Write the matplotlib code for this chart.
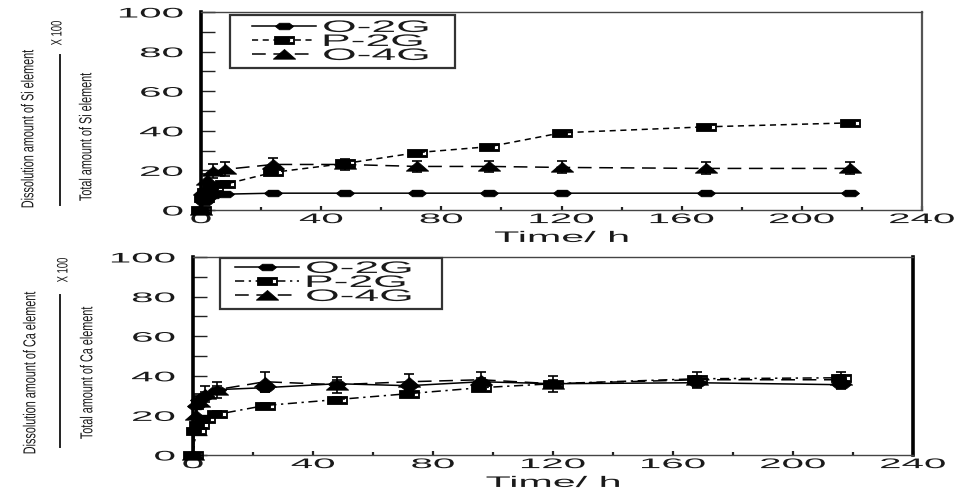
import matplotlib
matplotlib.use('Agg')
import matplotlib.pyplot as plt
from matplotlib.patheffects import AbstractPathEffect
from matplotlib.transforms import Affine2D
from matplotlib.path import Path
from matplotlib.patches import Rectangle
from matplotlib.lines import Line2D
from matplotlib.ticker import FixedLocator

# ---------------- data ----------------
time_h = [0, 1, 2, 4, 8, 24, 48, 72, 96, 120, 168, 216]

si_o2g = [0, 4, 6, 7.5, 8, 8.5, 8.5, 8.5, 8.5, 8.5, 8.5, 8.5]
si_p2g = [0, 6, 9, 11, 13, 19, 23.5, 29, 32, 39, 42, 44]
si_o4g = [0, 10, 15, 19.5, 20.5, 23, 23, 22, 22, 21.5, 21, 21]
si_o2g_err = [0, 1, 1, 1, 1, 1, 1, 1, 1, 1, 1, 1]
si_p2g_err = [0, 1.5, 1.5, 1.5, 1.5, 1.5, 1.5, 1, 1, 1, 1, 1]
si_o4g_err = [0, 3, 3, 3.5, 3.5, 3.5, 3, 3, 3, 3, 3, 3]

ca_o2g = [0, 25, 28, 30, 33, 34, 36, 35, 37, 36, 36.5, 35.5]
ca_p2g = [0, 12, 15, 18, 20.5, 25, 28, 31, 34, 36, 38.5, 39]
ca_o4g = [0, 20, 27, 31, 33, 37, 35.5, 37, 38, 36, 38, 38]
ca_o2g_err = [0, 2, 2, 2, 2, 2, 2, 2, 2, 2, 2, 2]
ca_p2g_err = [0, 1.5, 1.5, 1.5, 1.5, 1.5, 1.5, 1.5, 1.5, 1.5, 1.5, 1.5]
ca_o4g_err = [0, 4, 4, 4, 4, 5, 4, 4, 4, 4, 4, 4]

series_labels = ['O-2G', 'P-2G', 'O-4G']
x_ticks = [0, 40, 80, 120, 160, 200, 240]
x_minor = [20, 60, 100, 140, 180, 220]
y_ticks = [0, 20, 40, 60, 80, 100]
y_minor = [10, 30, 50, 70, 90]
x_label = 'Time/ h'
elements = ['Si', 'Ca']


# ------------- helpers -------------
class Stretch(AbstractPathEffect):
    """Draw text stretched (the reference image is horizontally stretched)."""
    def __init__(self, sx=2.8, sy=1.0, anchor='center'):
        super().__init__()
        self.sx, self.sy, self.anchor = sx, sy, anchor

    def draw_path(self, renderer, gc, tpath, affine, rgbFace=None):
        ext = tpath.get_extents(affine)
        if self.anchor == 'right':
            ax_ = ext.x1
        elif self.anchor == 'left':
            ax_ = ext.x0
        else:
            ax_ = 0.5 * (ext.x0 + ext.x1)
        ay_ = 0.5 * (ext.y0 + ext.y1)
        t = affine + Affine2D().translate(-ax_, -ay_).scale(self.sx, self.sy).translate(ax_, ay_)
        renderer.draw_path(gc, tpath, t, rgbFace)


def closed(pts):
    return pts + [pts[0]], [Path.MOVETO] + [Path.LINETO] * (len(pts) - 1) + [Path.CLOSEPOLY]

v, c = closed([(-1, 0), (-0.55, 0.36), (0.55, 0.36), (1, 0), (0.55, -0.36), (-0.55, -0.36)])
m_blob = Path(v, c)
v1, c1 = closed([(-1, -0.34), (1, -0.34), (1, 0.34), (-1, 0.34)])
v2, c2 = closed([(0.5, -0.18), (0.5, 0.18), (0.85, 0.18), (0.85, -0.18)])
m_rect = Path(v1 + v2, c1 + c2)
v, c = closed([(-1, -0.42), (1, -0.42), (0, 0.45)])
m_tri = Path(v, c)

markers = [m_blob, m_rect, m_tri]
msizes = [13, 15, 16]

tick_font = 'Liberation Sans'
txt_col = '#1a1a1a'

fig = plt.figure(figsize=(9.77, 4.95), dpi=100)
W, H = 977.0, 495.0

panels = [
    dict(rect=[201 / W, 1 - 210 / H, 721 / W, 198 / H],
         data=[si_o2g, si_p2g, si_o4g], err=[si_o2g_err, si_p2g_err, si_o4g_err],
         styles=['-', (0, (4, 3)), (0, (9, 5))],
         thick_right=False, elem='Si',
         leg_frame=(230, 15, 455, 68), leg_handle=(252, 20),
         ylab=dict(num=(28, 128), line=(60, 55, 205), den=(86, 136), x100=(57, 33))),
    dict(rect=[193 / W, 1 - 455 / H, 720 / W, 198 / H],
         data=[ca_o2g, ca_p2g, ca_o4g], err=[ca_o2g_err, ca_p2g_err, ca_o4g_err],
         styles=['-', (0, (6, 3, 1.5, 3)), (0, (9, 5))],
         thick_right=True, elem='Ca',
         leg_frame=(220, 258, 442, 309), leg_handle=(235, 261),
         ylab=dict(num=(30, 372), line=(60, 295, 447), den=(87, 372), x100=(63, 270))),
]

for p in panels:
    ax = fig.add_axes(p['rect'])
    ax.set_xlim(0, 240)
    ax.set_ylim(0, 100)
    x0p = p['rect'][0] * W
    wp = p['rect'][2] * W
    y1p = (1 - p['rect'][1]) * H  # bottom in pixels from top
    hp = p['rect'][3] * H

    handles = []
    for i, (vals, errs) in enumerate(zip(p['data'], p['err'])):
        ax.errorbar(time_h, vals, yerr=errs, fmt='none', ecolor='black',
                    elinewidth=1.2, capsize=3.5, capthick=1.2, clip_on=False, zorder=3)
        ln, = ax.plot(time_h, vals, linestyle=p['styles'][i], color='black', lw=1.1,
                      marker=markers[i], markersize=msizes[i], markerfacecolor='black',
                      markeredgecolor='black', markeredgewidth=0.6, clip_on=False,
                      zorder=4, label=series_labels[i])
        handles.append(ln)

    # spines
    for s in ['top', 'bottom']:
        ax.spines[s].set_linewidth(1.0)
        ax.spines[s].set_color('#444444')
    ax.spines['left'].set_linewidth(2.6)
    ax.spines['left'].set_color('black')
    if p['thick_right']:
        ax.spines['right'].set_linewidth(2.6)
        ax.spines['right'].set_color('black')
    else:
        ax.spines['right'].set_linewidth(1.6)
        ax.spines['right'].set_color('#555555')

    ax.xaxis.set_major_locator(FixedLocator(x_ticks))
    ax.xaxis.set_minor_locator(FixedLocator(x_minor))
    ax.yaxis.set_major_locator(FixedLocator(y_ticks))
    ax.yaxis.set_minor_locator(FixedLocator(y_minor))
    ax.set_xticklabels([str(t) for t in x_ticks])
    ax.set_yticklabels([str(t) for t in y_ticks])
    ax.tick_params(axis='y', which='both', direction='in', length=10, width=1.0,
                   left=True, right=False, pad=13, labelsize=10, labelcolor=txt_col,
                   color='#222222')
    ax.tick_params(axis='x', which='major', direction='in', length=3, width=1.6,
                   bottom=True, top=False, pad=1.5, labelsize=10, labelcolor=txt_col,
                   color='#222222')
    ax.tick_params(axis='x', which='minor', direction='in', length=2, width=1.6,
                   bottom=True, top=False, color='#222222')
    for lab in ax.get_xticklabels():
        lab.set_fontfamily(tick_font)
        lab.set_path_effects([Stretch(2.9, 1.0, 'center')])
    for lab in ax.get_yticklabels():
        lab.set_fontfamily(tick_font)
        lab.set_path_effects([Stretch(2.9, 1.0, 'right')])

    xl = ax.set_xlabel(x_label, fontsize=11, fontfamily=tick_font, color=txt_col, labelpad=3.5)
    xl.set_path_effects([Stretch(2.7, 1.0, 'center')])

    # legend (frame drawn separately, the reference frame is wider than its content)
    hx, hy = p['leg_handle']
    leg = ax.legend(handles=handles, loc='upper left',
                    bbox_to_anchor=((hx - x0p) / wp, (y1p - hy) / hp),
                    frameon=False, handlelength=4.6, handletextpad=0.55,
                    labelspacing=0.0, borderpad=0, borderaxespad=0,
                    prop=dict(family=tick_font, size=10))
    for t in leg.get_texts():
        t.set_color(txt_col)
        t.set_path_effects([Stretch(3.2, 1.2, 'left')])
    fx0, fy0, fx1, fy1 = p['leg_frame']
    ax.add_patch(Rectangle(((fx0 - x0p) / wp, (y1p - fy1) / hp), (fx1 - fx0) / wp, (fy1 - fy0) / hp,
                           transform=ax.transAxes, fill=False, ec='#333333', lw=1.6,
                           zorder=6, clip_on=False))

    # y label as a fraction (rotated, condensed text)
    yl = p['ylab']
    el = p['elem']
    t1 = fig.text(yl['num'][0] / W, 1 - yl['num'][1] / H, 'Dissolution amount of %s element' % el,
                  rotation=90, ha='center', va='center', fontsize=7.8, family=tick_font, color=txt_col)
    t2 = fig.text(yl['den'][0] / W, 1 - yl['den'][1] / H, 'Total amount of %s element' % el,
                  rotation=90, ha='center', va='center', fontsize=7.8, family=tick_font, color=txt_col)
    t3 = fig.text(yl['x100'][0] / W, 1 - yl['x100'][1] / H, 'X 100',
                  rotation=90, ha='center', va='center', fontsize=6.8, family=tick_font, color=txt_col)
    for t in (t1, t2, t3):
        t.set_path_effects([Stretch(1.6, 1.0, 'center')])
    lx, ly0, ly1 = yl['line']
    fig.add_artist(Line2D([lx / W, lx / W], [1 - ly0 / H, 1 - ly1 / H],
                          transform=fig.transFigure, color='#222222', lw=1.4))

fig.savefig('out.png', dpi=100)
